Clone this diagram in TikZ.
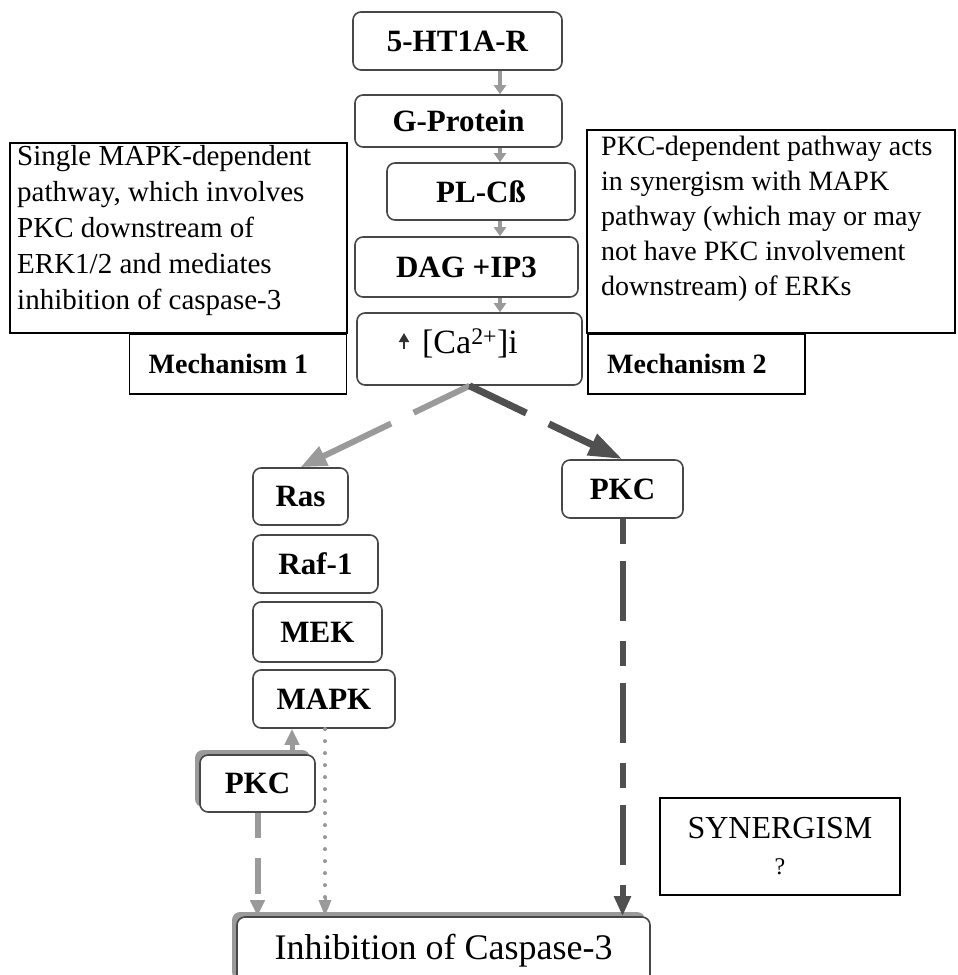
\documentclass[tikz,border=0pt]{standalone}
\usepackage{fontspec}
\setmainfont{Liberation Serif}
\usetikzlibrary{arrows.meta,calc,shadows}
\definecolor{lgrey}{HTML}{9A9A9A}
\definecolor{dgrey}{HTML}{505050}
\begin{document}
\begin{tikzpicture}[x=1pt,y=-1pt,
  pbox/.style={draw=black!72, line width=1.6pt, rounded corners=8pt, inner sep=0pt, fill=white,
    font=\bfseries\fontsize{31}{31}\selectfont},
  tbox/.style={draw=black, line width=1.5pt, inner sep=0pt},
  para/.style={anchor=north west, align=left, inner sep=0pt},
  mech/.style={draw=black, line width=1.5pt, inner sep=0pt, minimum height=60pt, minimum width=217pt},
  mechtext/.style={inner sep=0pt, anchor=west, font=\bfseries\fontsize{28}{28}\selectfont},
  gshadow/.style={drop shadow={shadow xshift=-5pt, shadow yshift=5pt, fill=lgrey, opacity=1}},
  smallarrow/.style={draw=lgrey, line width=4pt, -{Triangle[length=9pt,width=12pt]}},
  greyarrow/.style={draw=lgrey, line width=6pt, -{Triangle[length=26pt,width=20pt]}},
  darkarrow/.style={draw=dgrey, line width=7pt, -{Triangle[length=34pt,width=22pt]}},
]
\useasboundingbox (0,0) rectangle (958,975);

% top column
\node[pbox, minimum width=209pt, minimum height=58pt] (n1) at (457.5,41) {5-HT1A-R};
\node[pbox, minimum width=207pt, minimum height=52pt] (n2) at (458.5,121) {G-Protein};
\node[pbox, minimum width=188pt, minimum height=57pt] (n3) at (481,191.5) {PL-Cß};
\node[pbox, minimum width=223pt, minimum height=60pt] (n4) at (466.5,267) {DAG +IP3};
\node[pbox, minimum width=225pt, minimum height=72pt] (n5) at (469.5,349) {};
\node[inner sep=0pt, font=\fontsize{34}{34}\selectfont] (catext) at (470,343)
  {[Ca\textsuperscript{2+}]i};
\coordinate (upa) at (404,349);
\coordinate (upb) at (404,333);
\draw[draw=black!80, line width=2pt, -{Triangle[length=9pt,width=10pt]}] (upa) -- (upb);

\coordinate (ax) at (500,0);
\draw[smallarrow] (n1.south -| ax) -- (n2.north -| ax);
\draw[smallarrow] (n2.south -| ax) -- (n3.north -| ax);
\draw[smallarrow] (n3.south -| ax) -- (n4.north -| ax);
\draw[smallarrow] (n4.south -| ax) -- (n5.north -| ax);

% side text boxes
\node[tbox, minimum width=337pt, minimum height=190pt] (lbox) at (178.5,238) {};
\node[para, font=\fontsize{29}{36}\selectfont] (ltext) at (17,145)
  {Single MAPK-dependent\\pathway, which involves\\PKC downstream of\\ERK1/2 and mediates\\inhibition of caspase-3};
\node[mech, anchor=north east] (m1) at (347,333) {};
\node[mechtext] (m1t) at ($(m1.west)+(20,0)$) {Mechanism 1};

\node[tbox, minimum width=368pt, minimum height=203pt] (rbox) at (771,231.5) {};
\node[para, font=\fontsize{28}{35}\selectfont] (rtext) at (601,136)
  {PKC-dependent pathway acts\\in synergism with MAPK\\pathway (which may or may\\not have PKC involvement\\downstream) of ERKs};
\node[mech, anchor=north west] (m2) at (587,333) {};
\node[mechtext] (m2t) at ($(m2.west)+(20,0)$) {Mechanism 2};

% MAPK cascade
\node[pbox, minimum width=95pt, minimum height=57pt] (ras) at (300.5,496.5) {Ras};
\node[pbox, minimum width=125pt, minimum height=58pt] (raf) at (315.5,564) {Raf-1};
\node[pbox, minimum width=129pt, minimum height=60pt] (mek) at (317.5,632) {MEK};
\node[pbox, minimum width=142pt, minimum height=58pt] (mapk) at (324,699) {MAPK};
\node[pbox, gshadow, minimum width=115pt, minimum height=57pt] (pkcl) at (257.5,783.5) {PKC};

\node[pbox, minimum width=121pt, minimum height=58pt] (pkcr) at (622.5,489) {PKC};

% outcome
\node[pbox, gshadow, minimum width=413pt, minimum height=68pt, font=\fontsize{36}{36}\selectfont] (inh) at (443.5,951) {Inhibition of Caspase-3};
\node[tbox, minimum width=240pt, minimum height=97pt, align=center, font=\fontsize{32}{36}\selectfont] (syn) at (780,846.5) {SYNERGISM\\{\fontsize{24}{24}\selectfont ?}};

% branches from Ca
\draw[greyarrow, dash pattern=on 62pt off 25pt on 300pt] (n5.south) -- (ras.north);
\draw[darkarrow, dash pattern=on 63pt off 25pt on 300pt] (n5.south) -- (pkcr.north);

% lower connectors
\coordinate (dx) at (325,0);
\coordinate (ux) at (292,0);
\draw[draw=lgrey, line width=5pt, -{Triangle[length=16pt,width=14pt]}] (pkcl.north -| ux) -- (mapk.south -| ux);
\draw[draw=lgrey, line width=3.5pt, line cap=round, dash pattern=on 0.5pt off 11.5pt, shorten >=16pt] (mapk.south -| dx) -- (inh.north -| dx);
\draw[draw=lgrey, line width=3pt, -{Triangle[length=16pt,width=12pt]}] ($(inh.north -| dx)+(0,-18)$) -- (inh.north -| dx);
\draw[draw=lgrey, line width=6pt, dash pattern=on 25pt off 20pt on 36pt off 10pt on 40pt, -{Triangle[length=16pt,width=14pt]}] (pkcl.south) -- (pkcl.south |- inh.north);
\draw[draw=dgrey, line width=6pt, dash pattern=on 25pt off 17pt on 60pt off 20pt, -{Triangle[length=20pt,width=16pt]}] (pkcr.south) -- (pkcr.south |- inh.north);
\end{tikzpicture}
\end{document}
